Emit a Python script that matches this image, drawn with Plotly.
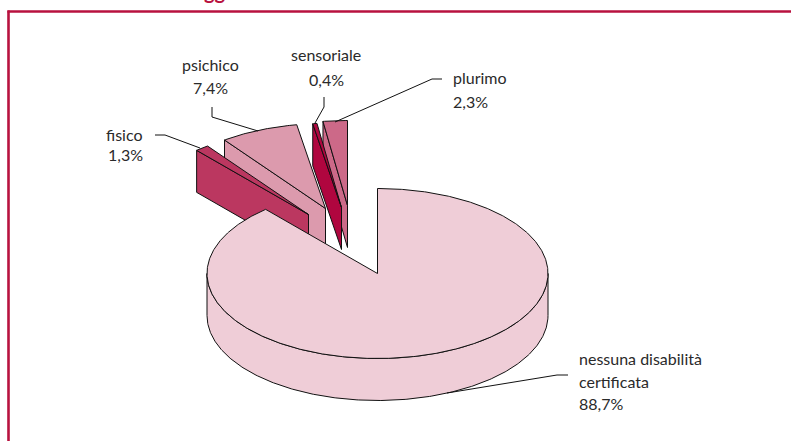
import numpy as np
import plotly.graph_objects as go

categories = ["nessuna disabilità certificata", "fisico", "psichico", "sensoriale", "plurimo"]
values = [88.7, 1.3, 7.4, 0.4, 2.3]
value_labels = ["88,7%", "1,3%", "7,4%", "0,4%", "2,3%"]

colors = ["#EFCDD7", "#BB3760", "#DC9AAD", "#B0063F", "#CC6988"]
CX, CY, RX, RY, DEPTH = 377.5, 273.5, 170.5, 85, 42
explode = [(0, 0), (-69, -59), (-52, -65), (-36, -66), (-30, -68)]
CRIMSON = "#B8123F"
INK = "#2a2a2a"
FONT = "Lato"
FS = 16


def rim(a, ox, oy, z=0):
    a = np.radians(a)
    return CX + ox + RX * np.sin(a), CY + oy - RY * np.cos(a) + z


def poly(xs, ys, color):
    return go.Scatter(x=list(xs), y=list(ys), mode="lines", fill="toself", fillcolor=color,
                      line=dict(color="#111111", width=1), hoverinfo="skip", showlegend=False)


edges = 360 * np.concatenate([[0], np.cumsum(values)]) / sum(values)
traces = {}
for i, (a0, a1) in enumerate(zip(edges[:-1], edges[1:])):
    ox, oy = explode[i]
    ang = np.linspace(a0, a1, max(6, int((a1 - a0) * 2)))
    ax, ay = CX + ox, CY + oy
    xs, ys = rim(ang, ox, oy)
    top = poly(np.r_[ax, xs, ax], np.r_[ay, ys, ay], colors[i])
    if i == 0:
        front = np.linspace(90, 270, 300)
        fx, fy = rim(front, 0, 0)
        _, by = rim(front, 0, 0, DEPTH)
        side = poly(np.r_[fx, fx[::-1], fx[0]], np.r_[fy, by[::-1], fy[0]], colors[i])
    else:
        sx, sy = rim(a0, ox, oy)
        side = poly([sx, ax, ax, sx, sx], [sy, ay, ay + DEPTH, sy + DEPTH, sy], colors[i])
    traces[i] = [side, top]

fig = go.Figure()
for i in [4, 3, 2, 1, 0]:
    fig.add_traces(traces[i])

leaders = [
    ([568, 557, 447], [375, 375, 393]),
    ([155, 165, 200], [135, 135, 148]),
    ([212, 212, 258], [107, 117, 131]),
    ([324, 324, 315], [97, 107, 123]),
    ([442, 432, 335], [79, 79, 122]),
]
for lx, ly in leaders:
    fig.add_trace(go.Scatter(x=lx, y=ly, mode="lines", line=dict(color="#111111", width=1),
                             hoverinfo="skip", showlegend=False))

labels = [
    ("nessuna disabilità", 577, 358, "left"), ("certificata", 577, 381, "left"), (value_labels[0], 577, 403, "left"),
    (categories[1], 124, 134, "center"), (value_labels[1], 125, 154, "center"),
    (categories[2], 210, 64, "center"), (value_labels[2], 210, 87, "center"),
    (categories[3], 326, 54, "center"), (value_labels[3], 326, 79, "center"),
    (categories[4], 451, 77, "left"), (value_labels[4], 451, 101, "left"),
]
annotations = [dict(x=x, y=y, text=t, xref="x", yref="y", xanchor=a, yanchor="middle", showarrow=False,
                    font=dict(family=FONT, size=FS, color=INK)) for t, x, y, a in labels]
annotations.append(dict(x=215, y=0, text="<b>gg</b>", xref="x", yref="y", xanchor="center", yanchor="top",
                        yshift=23, showarrow=False, font=dict(family=FONT, size=20, color=CRIMSON)))

shapes = [
    dict(type="line", xref="x", yref="y", x0=7.5, x1=791, y0=11.5, y1=11.5, line=dict(color=CRIMSON, width=2.6)),
    dict(type="line", xref="x", yref="y", x0=8.5, x1=8.5, y0=10.5, y1=441, line=dict(color=CRIMSON, width=2.6)),
]

fig.update_layout(
    width=791, height=441, margin=dict(l=0, r=0, t=0, b=0),
    paper_bgcolor="white", plot_bgcolor="white", showlegend=False,
    xaxis=dict(range=[0, 791], visible=False, fixedrange=True),
    yaxis=dict(range=[441, 0], visible=False, fixedrange=True),
    annotations=annotations, shapes=shapes,
)
fig.write_html("out.html", post_script="document.body.style.margin='0';", config={"displayModeBar": False})
